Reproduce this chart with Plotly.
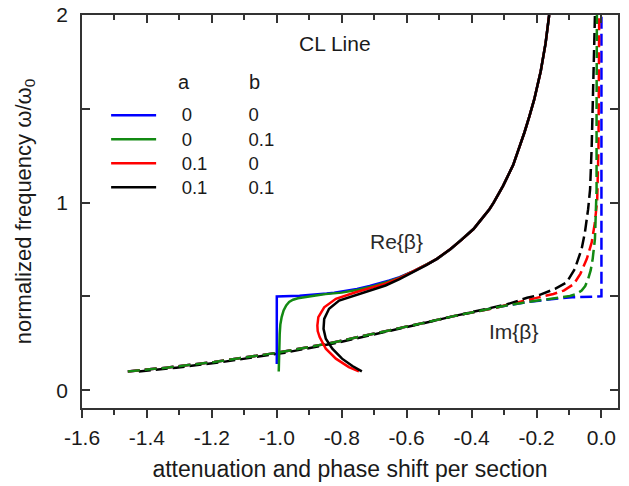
import plotly.graph_objects as go

# ---------------- data ----------------
# Re{beta}: phase shift per section (solid lines)
re_y_blue = [0.14, 0.5, 0.503, 0.506, 0.51, 0.515, 0.52, 0.53, 0.54, 0.555, 0.57, 0.585, 0.602,
             0.63, 0.673, 0.7, 0.753, 0.8, 0.859, 0.9, 0.965, 1.0, 1.089, 1.2, 1.29, 1.375,
             1.46, 1.55, 1.7, 1.85, 2.0]
re_x_blue = [-1.0, -1.0, -0.930, -0.902, -0.874, -0.846, -0.823, -0.785, -0.753, -0.714, -0.681,
             -0.653, -0.622, -0.584, -0.535, -0.506, -0.464, -0.432, -0.394, -0.375, -0.345,
             -0.332, -0.303, -0.272, -0.253, -0.237, -0.222, -0.207, -0.187, -0.172, -0.161]

re_y_green = [0.10, 0.2, 0.3, 0.35, 0.39, 0.425, 0.452, 0.47, 0.482, 0.49, 0.498, 0.505, 0.512,
              0.52, 0.535, 0.556, 0.58, 0.6, 0.63, 0.673, 0.7, 0.753, 0.8, 0.859, 0.9, 0.965,
              1.0, 1.089, 1.2, 1.29, 1.375, 1.46, 1.55, 1.7, 1.85, 2.0]
re_x_green = [-0.994, -0.993, -0.991, -0.989, -0.985, -0.979, -0.971, -0.962, -0.950, -0.935,
              -0.91, -0.88, -0.85, -0.80, -0.75, -0.70, -0.655, -0.622, -0.584, -0.535, -0.506,
              -0.464, -0.432, -0.394, -0.375, -0.345, -0.332, -0.303, -0.272, -0.253, -0.237,
              -0.222, -0.207, -0.187, -0.172, -0.161]

re_y_red = [0.10, 0.123, 0.168, 0.221, 0.283, 0.315, 0.345, 0.389, 0.442, 0.487, 0.522, 0.551,
            0.568, 0.597, 0.628, 0.671, 0.7, 0.753, 0.8, 0.859, 0.9, 0.965, 1.0, 1.089, 1.2,
            1.29, 1.375, 1.46, 1.55, 1.7, 1.85, 2.0]
re_x_red = [-0.747, -0.778, -0.818, -0.849, -0.868, -0.874, -0.875, -0.872, -0.854, -0.818,
            -0.757, -0.70, -0.665, -0.622, -0.585, -0.537, -0.507, -0.465, -0.432, -0.394,
            -0.375, -0.345, -0.332, -0.303, -0.272, -0.253, -0.237, -0.222, -0.207, -0.187,
            -0.172, -0.161]

re_y_black = [0.10, 0.129, 0.168, 0.221, 0.274, 0.327, 0.380, 0.434, 0.478, 0.513, 0.540, 0.558,
              0.592, 0.625, 0.668, 0.7, 0.753, 0.8, 0.859, 0.9, 0.965, 1.0, 1.089, 1.2, 1.29,
              1.375, 1.46, 1.55, 1.7, 1.85, 2.0]
re_x_black = [-0.738, -0.767, -0.799, -0.829, -0.849, -0.856, -0.854, -0.839, -0.808, -0.747,
              -0.70, -0.665, -0.622, -0.585, -0.538, -0.507, -0.465, -0.432, -0.394, -0.375,
              -0.345, -0.332, -0.303, -0.272, -0.253, -0.237, -0.222, -0.207, -0.187, -0.172,
              -0.161]

# Im{beta}: attenuation per section (dashed lines)
im_y_blue = [0.1, 0.12, 0.15, 0.2, 0.25, 0.3, 0.35, 0.4, 0.45, 0.47, 0.48, 0.49, 0.495, 0.4988,
             0.5, 2.0]
im_x_blue = [-1.459, -1.340, -1.193, -0.997, -0.838, -0.699, -0.570, -0.441, -0.297, -0.226,
             -0.183, -0.128, -0.090, -0.044, 0.0, 0.0]

im_y_green = [0.1, 0.12, 0.15, 0.2, 0.25, 0.3, 0.35, 0.4, 0.45, 0.47, 0.48, 0.489, 0.496, 0.502,
              0.513, 0.531, 0.555, 0.593, 0.64, 0.70, 0.806, 0.93, 1.07, 1.5, 2.0]
im_x_green = [-1.459, -1.340, -1.193, -0.997, -0.838, -0.699, -0.570, -0.441, -0.297, -0.226,
              -0.183, -0.148, -0.12, -0.097, -0.077, -0.061, -0.05, -0.041, -0.033, -0.027,
              -0.02, -0.017, -0.015, -0.015, -0.014]

im_y_red = [0.1, 0.12, 0.15, 0.2, 0.25, 0.3, 0.35, 0.4, 0.437, 0.455, 0.47, 0.492, 0.513, 0.531,
            0.566, 0.62, 0.70, 0.788, 0.895, 1.018, 1.3, 1.6, 2.0]
im_x_red = [-1.459, -1.340, -1.193, -0.997, -0.838, -0.699, -0.570, -0.441, -0.33, -0.29,
            -0.25, -0.2, -0.148, -0.116, -0.085, -0.065, -0.045, -0.03, -0.02, -0.013, -0.009,
            -0.008, -0.007]

im_y_black = [0.1, 0.12, 0.15, 0.2, 0.25, 0.3, 0.35, 0.4, 0.44, 0.458, 0.475, 0.493, 0.508, 0.54,
              0.575, 0.646, 0.753, 0.84, 0.965, 1.07, 1.3, 1.5, 1.8, 2.0]
im_x_black = [-1.425, -1.31, -1.168, -0.975, -0.822, -0.690, -0.566, -0.441, -0.33, -0.29,
              -0.26, -0.229, -0.19, -0.143, -0.107, -0.082, -0.061, -0.051, -0.041, -0.035,
              -0.03, -0.027, -0.022, -0.02]

# legend labels (a, b)
a_vals = ["0", "0", "0.1", "0.1"]
b_vals = ["0", "0.1", "0", "0.1"]
colors = ["#0000FF", "#138A13", "#FF0000", "#000000"]

x_tickvals = [-1.6, -1.4, -1.2, -1.0, -0.8, -0.6, -0.4, -0.2, 0.0]
x_ticktext = ["-1.6", "-1.4", "-1.2", "-1.0", "-0.8", "-0.6", "-0.4", "-0.2", "0.0"]
y_tickvals = [0, 1, 2]
y_ticktext = ["0", "1", "2"]

FONT = "Liberation Sans, Arial, sans-serif"
TXT = "#1a1a1a"
NB = "\u00a0"

re_x = [re_x_blue, re_x_green, re_x_red, re_x_black]
re_y = [re_y_blue, re_y_green, re_y_red, re_y_black]
im_x = [im_x_blue, im_x_green, im_x_red, im_x_black]
im_y = [im_y_blue, im_y_green, im_y_red, im_y_black]

fig = go.Figure()

# dashed (attenuation) curves
for i in [0, 2, 3, 1]:
    fig.add_trace(go.Scatter(x=im_x[i], y=im_y[i], mode="lines", showlegend=False,
                             line=dict(color=colors[i], width=2.5, dash="12px,5px"),
                             hoverinfo="skip"))

# solid (phase) curves with legend entries
for i in range(4):
    gap = 11 if len(a_vals[i]) == 1 else 8
    label = NB * 4 + a_vals[i] + NB * gap + b_vals[i]
    name = '<span style="font-size:18.5px">' + label + '</span>'
    fig.add_trace(go.Scatter(x=re_x[i], y=re_y[i], mode="lines", name=name,
                             line=dict(color=colors[i], width=2.5), hoverinfo="skip"))

# helper trace for the top axis
fig.add_trace(go.Scatter(x=[], y=[], xaxis="x2", yaxis="y", showlegend=False,
                         hoverinfo="skip"))

axis_common = dict(showline=True, linecolor="#333333", linewidth=1.5, showgrid=False,
                   zeroline=False, automargin=False)

fig.update_layout(
    width=629, height=486,
    margin=dict(l=82, r=11, t=15, b=78),
    paper_bgcolor="white", plot_bgcolor="white",
    font=dict(family=FONT, color=TXT, size=20),
    xaxis=dict(range=[-1.6, 0.051], tickmode="array", tickvals=x_tickvals,
               ticktext=x_ticktext, ticks="outside", ticklen=8, tickwidth=1.5,
               tickcolor="#333333", mirror=True,
               minor=dict(tickmode="linear", tick0=-1.6, dtick=0.1, ticks="outside",
                          ticklen=5, tickwidth=1.5, tickcolor="#333333"),
               tickfont=dict(size=21, family=FONT, color=TXT), ticklabelstandoff=2,
               title=dict(text="attenuation and phase shift per section",
                          font=dict(size=23, family=FONT, color=TXT), standoff=13),
               **axis_common),
    xaxis2=dict(range=[-1.6, 0.051], overlaying="x", matches="x", side="top",
                tickmode="array", tickvals=x_tickvals, showticklabels=False,
                ticks="inside", ticklen=8, tickwidth=1.5, tickcolor="#333333",
                minor=dict(tickmode="linear", tick0=-1.6, dtick=0.1, ticks="inside",
                           ticklen=5, tickwidth=1.5, tickcolor="#333333"),
                **axis_common),
    yaxis=dict(range=[-0.095, 2.0], tickmode="array", tickvals=y_tickvals,
               ticktext=y_ticktext, ticks="inside", ticklen=8, tickwidth=1.5,
               tickcolor="#333333", mirror="allticks",
               minor=dict(tickmode="linear", tick0=0, dtick=0.5, ticks="inside",
                          ticklen=5, tickwidth=1.5, tickcolor="#333333"),
               tickfont=dict(size=21, family=FONT, color=TXT), ticklabelstandoff=8,
               title=dict(text="normalized frequency \u03c9/\u03c9<sub>0</sub>",
                          font=dict(size=22, family=FONT, color=TXT), standoff=19),
               **axis_common),
    legend=dict(x=0.045, y=0.7885, xanchor="left", yanchor="top", bgcolor="rgba(0,0,0,0)",
                borderwidth=0, font=dict(size=16.2, family=FONT, color=TXT), itemwidth=45),
    showlegend=True,
)

fig.add_annotation(x=-0.82, y=1.85, xref="x", yref="y", text="CL Line", showarrow=False,
                   xanchor="center", yanchor="middle",
                   font=dict(size=21, family=FONT, color=TXT))
fig.add_annotation(x=-0.63, y=0.79, xref="x", yref="y", text="Re{\u03b2}", showarrow=False,
                   xanchor="center", yanchor="middle",
                   font=dict(size=21, family=FONT, color="#2a2a2a"))
fig.add_annotation(x=-0.272, y=0.311, xref="x", yref="y", text="Im{\u03b2}", showarrow=False,
                   xanchor="center", yanchor="middle",
                   font=dict(size=21, family=FONT, color="#2a2a2a"))
fig.add_annotation(x=0.191, y=0.8295, xref="paper", yref="paper", text="a", showarrow=False,
                   xanchor="center", yanchor="middle",
                   font=dict(size=20, family=FONT, color=TXT))
fig.add_annotation(x=0.3218, y=0.8295, xref="paper", yref="paper", text="b", showarrow=False,
                   xanchor="center", yanchor="middle",
                   font=dict(size=20, family=FONT, color=TXT))

fig.write_html("out.html")
